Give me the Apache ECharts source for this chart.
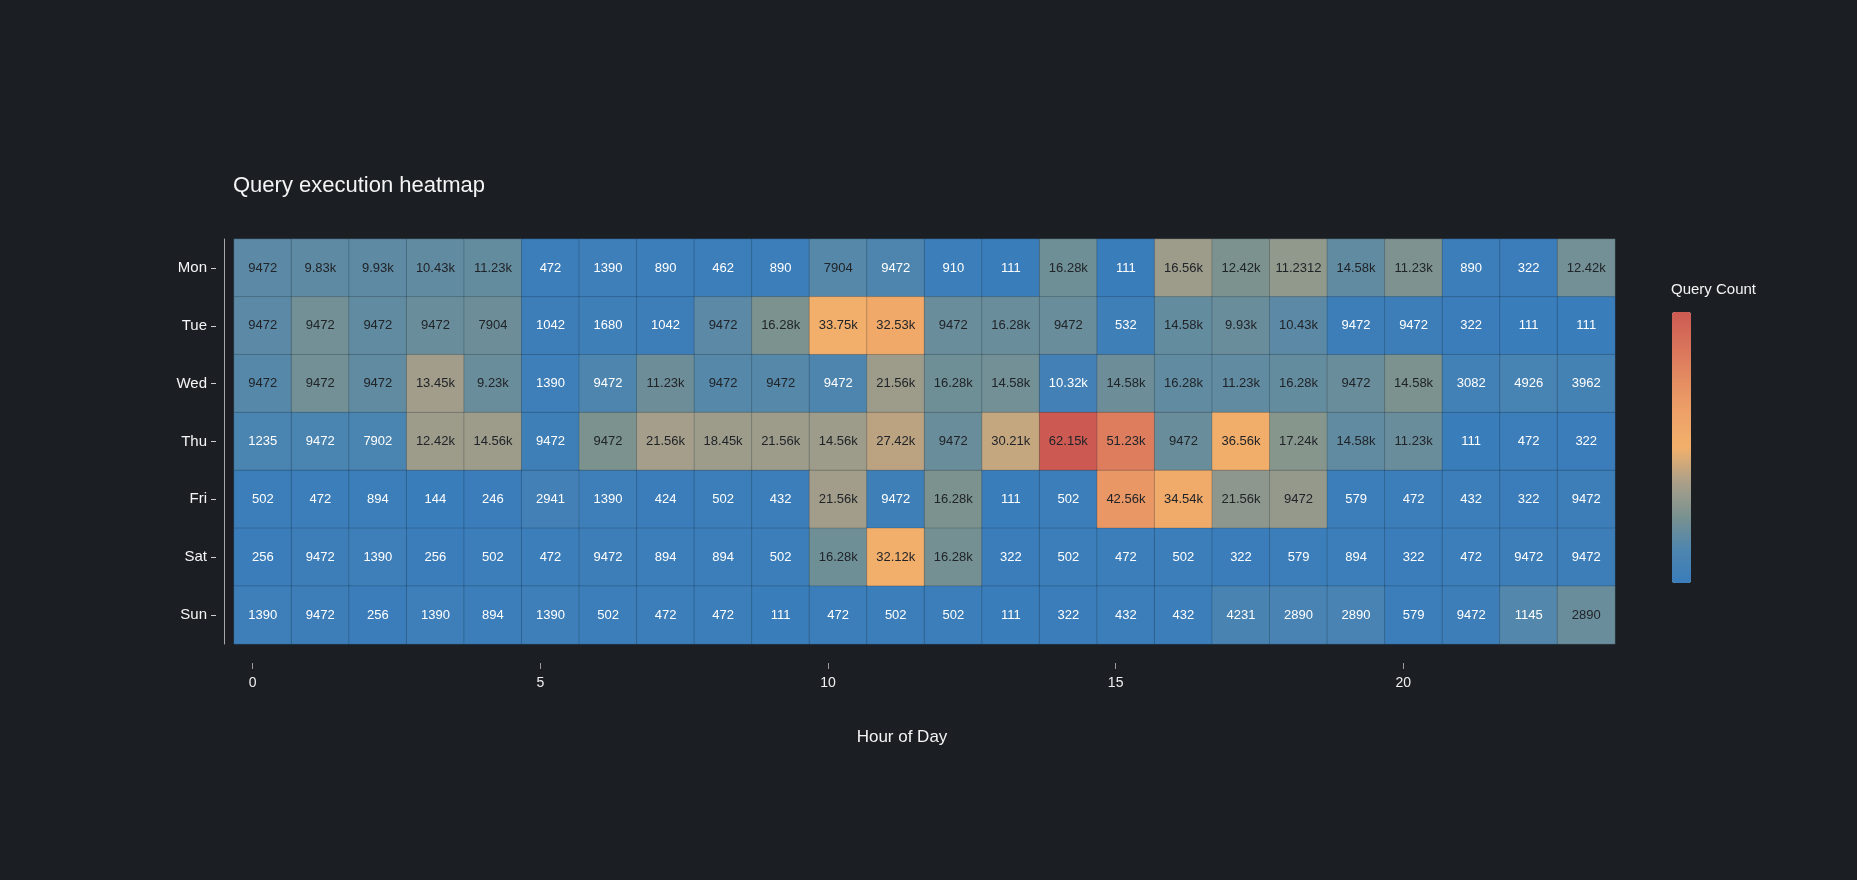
<!DOCTYPE html>
<html>
<head>
<meta charset="utf-8">
<title>Query execution heatmap</title>
<script src="https://cdn.jsdelivr.net/npm/echarts@6/dist/echarts.min.js"></script>
<style>
  html, body { margin: 0; padding: 0; background: #1b1e23; }
  #main { width: 1857px; height: 880px; }
</style>
</head>
<body>
<div id="main"></div>
<script>
var hours = [];
for (var h = 0; h < 24; h++) hours.push(String(h));
var days = ['Mon', 'Tue', 'Wed', 'Thu', 'Fri', 'Sat', 'Sun'];
var xTicks = [0, 5, 10, 15, 20];

// colour value of each cell
var heatMon = [10000, 10500, 10500, 11000, 11500, 472, 1390, 890, 462, 890, 9000, 7000, 910, 111, 13500, 111, 21000, 15500, 19000, 11000, 16000, 890, 322, 14000];
var heatTue = [10000, 14000, 11000, 12500, 13000, 1042, 1680, 1042, 10000, 15500, 32000, 35000, 12500, 12500, 12500, 2000, 11500, 12500, 10000, 1000, 1000, 322, 111, 111];
var heatWed = [9000, 14000, 11000, 21500, 12500, 1390, 7000, 13000, 9000, 9000, 7000, 21000, 13500, 14000, 3000, 13000, 11000, 11000, 11500, 12500, 15500, 3082, 4926, 3962];
var heatThu = [6000, 6000, 6000, 21000, 21000, 1500, 15500, 22000, 21000, 21000, 21000, 25000, 12500, 26000, 62150, 51230, 12500, 32500, 17500, 11000, 12500, 111, 472, 322];
var heatFri = [502, 472, 894, 144, 246, 2941, 1390, 424, 502, 432, 21500, 1500, 15500, 111, 502, 42560, 34540, 18500, 19500, 579, 472, 432, 322, 1000];
var heatSat = [256, 1000, 1390, 256, 502, 472, 1000, 894, 894, 502, 13500, 32000, 14500, 322, 502, 472, 502, 322, 579, 894, 322, 472, 1000, 1000];
var heatSun = [1390, 1000, 256, 1390, 894, 1390, 502, 472, 472, 111, 472, 502, 502, 111, 322, 432, 432, 5500, 5000, 5000, 579, 1000, 8500, 12500];

// text printed in each cell
var textMon = ['9472', '9.83k', '9.93k', '10.43k', '11.23k', '472', '1390', '890', '462', '890', '7904', '9472', '910', '111', '16.28k', '111', '16.56k', '12.42k', '11.2312', '14.58k', '11.23k', '890', '322', '12.42k'];
var textTue = ['9472', '9472', '9472', '9472', '7904', '1042', '1680', '1042', '9472', '16.28k', '33.75k', '32.53k', '9472', '16.28k', '9472', '532', '14.58k', '9.93k', '10.43k', '9472', '9472', '322', '111', '111'];
var textWed = ['9472', '9472', '9472', '13.45k', '9.23k', '1390', '9472', '11.23k', '9472', '9472', '9472', '21.56k', '16.28k', '14.58k', '10.32k', '14.58k', '16.28k', '11.23k', '16.28k', '9472', '14.58k', '3082', '4926', '3962'];
var textThu = ['1235', '9472', '7902', '12.42k', '14.56k', '9472', '9472', '21.56k', '18.45k', '21.56k', '14.56k', '27.42k', '9472', '30.21k', '62.15k', '51.23k', '9472', '36.56k', '17.24k', '14.58k', '11.23k', '111', '472', '322'];
var textFri = ['502', '472', '894', '144', '246', '2941', '1390', '424', '502', '432', '21.56k', '9472', '16.28k', '111', '502', '42.56k', '34.54k', '21.56k', '9472', '579', '472', '432', '322', '9472'];
var textSat = ['256', '9472', '1390', '256', '502', '472', '9472', '894', '894', '502', '16.28k', '32.12k', '16.28k', '322', '502', '472', '502', '322', '579', '894', '322', '472', '9472', '9472'];
var textSun = ['1390', '9472', '256', '1390', '894', '1390', '502', '472', '472', '111', '472', '502', '502', '111', '322', '432', '432', '4231', '2890', '2890', '579', '9472', '1145', '2890'];

var heat = [heatMon, heatTue, heatWed, heatThu, heatFri, heatSat, heatSun];
var texts = [textMon, textTue, textWed, textThu, textFri, textSat, textSun];

var cells = [];
heat.forEach(function (row, r) {
  row.forEach(function (v, c) {
    cells.push({
      value: [c, r, v],
      label: { color: v >= 9000 ? '#202428' : '#ffffff' }
    });
  });
});

var font = '"Liberation Sans", Arial, Helvetica, sans-serif';
var chart = echarts.init(document.getElementById('main'));
var option = {
  backgroundColor: '#1b1e23',
  textStyle: { fontFamily: font },
  title: [{
    text: 'Query execution heatmap',
    left: 228,
    top: 170,
    textStyle: { color: '#f4f4f4', fontSize: 22, fontWeight: 'normal', fontFamily: font }
  }, {
    text: 'Query Count',
    left: 1666,
    top: 277,
    textStyle: { color: '#f4f4f4', fontSize: 15, fontWeight: 'normal', fontFamily: font }
  }],
  grid: { left: 234, right: 242, top: 239, bottom: 236 },
  xAxis: [{
    type: 'category',
    data: hours,
    show: false
  }, {
    type: 'value',
    position: 'bottom',
    min: -0.325,
    max: 23.68,
    offset: 19,
    axisLine: { show: false, onZero: false },
    splitLine: { show: false },
    axisTick: { show: true, length: 6, lineStyle: { color: '#9a9a9a' }, customValues: xTicks },
    axisLabel: { color: '#f0f0f0', fontSize: 14, margin: 13, customValues: xTicks },
    name: 'Hour of Day',
    nameLocation: 'middle',
    nameGap: 66,
    nameTextStyle: { color: '#f4f4f4', fontSize: 17, padding: [0, 45, 0, 0] }
  }],
  yAxis: [{
    type: 'category',
    data: days,
    inverse: true,
    position: 'left',
    offset: 18,
    axisLine: { show: true, onZero: false, lineStyle: { color: 'rgba(0,0,0,0)' } },
    axisTick: { show: true, length: 5, alignWithLabel: true, lineStyle: { color: '#cfcfcf', width: 1 } },
    axisLabel: { color: '#f6f6f6', fontSize: 15, margin: 9 },
    splitLine: { show: false }
  }, {
    type: 'category',
    data: days,
    inverse: true,
    position: 'left',
    offset: 10,
    axisLine: { show: true, onZero: false, lineStyle: { color: '#a8a8a8', width: 1 } },
    axisTick: { show: false },
    axisLabel: { show: false },
    splitLine: { show: false }
  }],
  visualMap: {
    type: 'continuous',
    min: 0,
    max: 62150,
    dimension: 2,
    calculable: false,
    orient: 'vertical',
    left: 1672,
    top: 312,
    padding: 0,
    itemWidth: 19,
    itemHeight: 271,
    text: null,
    showLabel: false,
    inRange: {
      color: ['#3a7dbb', '#4f86ae', '#7b928f', '#aca089', '#f2b06b', '#eea268', '#e48c62', '#d9735b', '#cc5a52']
    }
  },
  series: [{
    name: 'Query Count',
    type: 'heatmap',
    xAxisIndex: 0,
    yAxisIndex: 0,
    data: cells,
    itemStyle: { borderColor: 'rgba(20,30,40,0.22)', borderWidth: 1 },
    label: {
      show: true,
      fontSize: 13,
      fontFamily: font,
      formatter: function (p) {
        return texts[p.value[1]][p.value[0]];
      }
    }
  }]
};
chart.setOption(option);
</script>
</body>
</html>
